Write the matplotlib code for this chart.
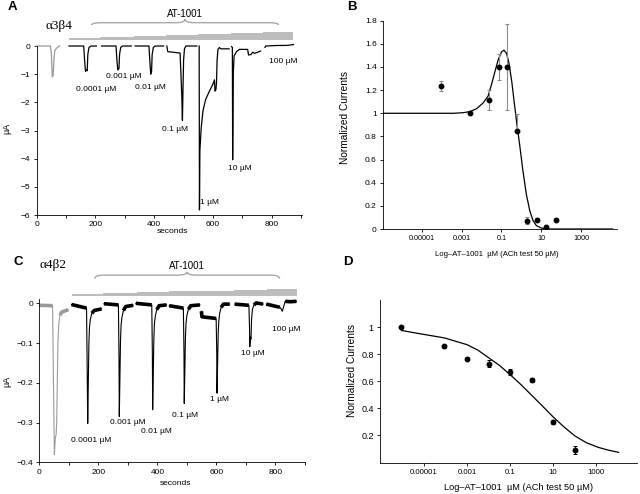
import numpy as np
import matplotlib
matplotlib.use("Agg")
import matplotlib.pyplot as plt
from matplotlib.path import Path
from matplotlib.patches import PathPatch

plt.rcParams['font.family'] = ['Liberation Sans', 'DejaVu Sans']

W, H = 640, 494

# ---------------- panel A : a3b4 recording (seconds, uA) ----------------
a_ctrl_t = [0, 47, 50, 53, 56, 59, 62, 70, 78]
a_ctrl_i = [0, 0, -0.3, -1.1, -1.05, -0.4, -0.15, -0.05, 0]

a_seg_t = [
    [110, 160, 163, 166, 169, 172, 174, 178, 185, 203],
    [221, 270, 273, 276, 280, 282, 286, 292, 322],
    [335, 382, 385, 388, 391, 393, 397, 403, 432],
    [443, 446, 488, 491, 494, 496, 498, 500, 503, 508, 545],
    [553, 554, 555.5, 560, 566, 575, 588, 600, 605, 607, 610, 612, 614, 617, 622, 626, 655],
    [663, 666, 667, 669, 672, 680, 690, 718, 721, 730, 735, 742, 752, 762],
    [777, 779, 820, 850, 874],
]
a_seg_i = [
    [0, 0, -0.5, -0.9, -0.85, -0.88, -0.3, -0.05, 0, 0],
    [0, 0, -0.5, -0.85, -0.8, -0.3, -0.05, 0, 0],
    [0, 0, -0.5, -1.0, -0.9, -0.3, -0.05, 0, 0],
    [0, -0.2, -0.25, -1.0, -1.8, -2.65, -1.5, -0.5, -0.1, 0, 0],
    [0, -5.82, -3.7, -2.9, -2.3, -1.9, -1.6, -1.35, -1.2, -1.6, -1.55, -1.3, -0.5,
     -0.12, -0.05, -0.1, -0.1],
    [-0.02, -0.05, -4.04, -1.0, -0.35, -0.2, -0.12, -0.12, -0.32, -0.3, -0.22, -0.26,
     -0.22, -0.18],
    [-0.05, 0, 0.02, 0.02, 0.05],
]
a_conc = ['0.0001 µM', '0.001 µM', '0.01 µM', '0.1 µM', '1 µM', '10 µM', '100 µM']
a_lab_t = [204, 297, 388, 471, 588, 692, 840]
a_lab_i = [-1.54, -1.1, -1.46, -2.95, -5.56, -4.34, -0.56]

# ---------------- panel C : a4b2 recording ----------------
c_ctrl_t = [0, 45, 48, 51, 54, 57, 59, 61, 63, 66, 70, 76, 98]
c_ctrl_i = [-0.005, -0.006, -0.2, -0.38, -0.34, -0.33, -0.30, -0.2, -0.1, -0.05, -0.03,
            -0.022, -0.016]

c_seg_t = [
    [109, 160, 162, 164, 166, 168, 170, 173, 178, 186, 211],
    [219, 268, 270, 271, 273, 275, 277, 280, 285, 293, 318],
    [327, 381, 383, 384, 386, 388, 390, 393, 398, 406, 431],
    [440, 488, 490, 491, 493, 495, 497, 500, 505, 513, 544],
    [549, 551, 599, 601, 602, 604, 606, 608, 611, 616, 624, 645],
    [662, 710, 712, 713, 715, 717, 719, 722, 727, 735, 758],
    [769, 815, 819, 823, 827, 833, 850, 871],
]
c_seg_i = [
    [-0.003, -0.012, -0.15, -0.302, -0.2, -0.1, -0.06, -0.04, -0.025, -0.018, -0.014],
    [-0.001, -0.004, -0.14, -0.285, -0.19, -0.095, -0.055, -0.035, -0.018, -0.008, -0.005],
    [0.0, -0.004, -0.13, -0.268, -0.18, -0.09, -0.05, -0.032, -0.016, -0.006, -0.004],
    [-0.006, -0.012, -0.12, -0.252, -0.17, -0.085, -0.05, -0.03, -0.015, -0.006, -0.004],
    [-0.02, -0.034, -0.038, -0.12, -0.226, -0.15, -0.075, -0.045, -0.025, -0.01, -0.002,
     -0.002],
    [-0.002, -0.005, -0.06, -0.109, -0.085, -0.09, -0.04, -0.015, -0.004, 0.001, -0.002],
    [-0.002, -0.01, -0.014, -0.02, -0.01, 0.005, 0.004, 0.005],
]
c_pre_n = [2, 2, 2, 2, 3, 2, 2]
c_post_n = [3, 3, 3, 3, 3, 3, 3]
c_conc = a_conc
c_lab_t = [177, 301, 397, 493, 611, 724, 837]
c_lab_i = [-0.346, -0.300, -0.323, -0.281, -0.243, -0.126, -0.067]

# ---------------- panel B : a3b4 dose response ----------------
b_logc = [-4.03, -2.58, -1.65, -1.15, -0.7, -0.2, 0.27, 0.77, 1.23, 1.72]
b_norm = [1.236, 1.005, 1.115, 1.40, 1.40, 0.844, 0.072, 0.081, 0.017, 0.081]
b_err_lo = [0.045, 0.01, 0.09, 0.11, 0.37, 0.01, 0.03, 0.015, 0.01, 0.015]
b_err_hi = [0.045, 0.01, 0.09, 0.11, 0.37, 0.15, 0.03, 0.015, 0.01, 0.015]
b_fit_logc = [-6.92, -3.42, -2.92, -2.58, -2.25, -1.92, -1.67, -1.5, -1.33, -1.17, -1.0,
              -0.88, -0.75, -0.62, -0.48, -0.35, -0.22, -0.08, 0.08, 0.25, 0.42, 0.58,
              0.75, 1.0, 1.42, 4.58]
b_fit = [1.0, 1.0, 1.005, 1.015, 1.04, 1.09, 1.15, 1.25, 1.36, 1.46, 1.53, 1.545, 1.52,
         1.43, 1.27, 1.08, 0.9, 0.72, 0.5, 0.3, 0.16, 0.075, 0.03, 0.008, 0.0, 0.0]

# ---------------- panel D : a4b2 dose response ----------------
d_logc = [-6.05, -4.05, -3.0, -2.0, -1.0, 0.0, 1.0, 2.0]
d_norm = [1.0, 0.858, 0.767, 0.73, 0.669, 0.607, 0.30, 0.092]
d_err = [0.008, 0.01, 0.012, 0.025, 0.02, 0.015, 0.012, 0.03]
d_fit_logc = [-6.05, -5.2, -4.05, -3.0, -2.5, -2.0, -1.5, -1.0, -0.5, 0.0, 0.5, 1.0, 1.5,
              2.0, 2.55, 3.1, 3.55, 4.05]
d_fit = [0.975, 0.951, 0.92, 0.87, 0.83, 0.774, 0.718, 0.649, 0.576, 0.497, 0.418, 0.337,
         0.264, 0.198, 0.146, 0.112, 0.092, 0.075]

log_ticks = [1e-5, 1e-3, 1e-1, 1e1, 1e3]
log_ticklabels = ['0.00001', '0.001', '0.1', '10', '1000']

fig = plt.figure(figsize=(W / 100, H / 100), dpi=100)


def axes_px(l, t, r, b):
    return fig.add_axes([l / W, 1 - b / H, (r - l) / W, (b - t) / H])


def ftext(x, y, s, **kw):
    fig.text(x / W, 1 - y / H, s, **kw)


def style(ax, tsize_x, tsize_y):
    for s in ['top', 'right']:
        ax.spines[s].set_visible(False)
    for s in ['left', 'bottom']:
        ax.spines[s].set_linewidth(0.6)
    ax.tick_params(axis='x', which='both', length=2.5, width=0.6, pad=2, labelsize=tsize_x)
    ax.tick_params(axis='y', which='both', length=2.5, width=0.6, pad=2, labelsize=tsize_y)


def brace(ax, x0, x1, y_end, y_line, y_peak, color):
    xm = (x0 + x1) / 2
    w = (x1 - x0) * 0.05
    verts = [(x0, y_end), (x0, y_line), (x0 + w, y_line),
             (xm - w, y_line), (xm, y_line), (xm, y_peak),
             (xm, y_line), (xm + w, y_line),
             (x1 - w, y_line), (x1, y_line), (x1, y_end)]
    codes = [Path.MOVETO, Path.CURVE3, Path.CURVE3, Path.LINETO, Path.CURVE3, Path.CURVE3,
             Path.CURVE3, Path.CURVE3, Path.LINETO, Path.CURVE3, Path.CURVE3]
    ax.add_patch(PathPatch(Path(verts, codes), fill=False, ec=color, lw=1.0, clip_on=False))


def step_bar(ax, edges, bottom, h0, h1, color):
    n = len(edges) - 1
    tops = [bottom + h0 + (h1 - h0) * k / (n - 1) for k in range(n)]
    ax.fill_between(edges, bottom, tops + [tops[-1]], step='post', color=color, lw=0,
                    clip_on=False)


bar_edges = [110, 215, 330, 440, 550, 660, 770, 874]
gray = '#9a9a9a'

# ---- A ----
axA = axes_px(36.7, 9.4, 301.7, 215)
axA.plot(a_ctrl_t, a_ctrl_i, color=gray, lw=0.9, clip_on=False)
for t, i in zip(a_seg_t, a_seg_i):
    axA.plot(t, i, color='black', lw=0.9, clip_on=False)
for s, t, i in zip(a_conc, a_lab_t, a_lab_i):
    axA.text(t, i, s, ha='center', va='center', fontsize=6)
step_bar(axA, bar_edges, 0.213, 0.08, 0.27, '#bdbdbd')
brace(axA, 187, 823, 0.746, 0.828, 0.947, '#a8a8a8')
axA.text(505, 1.148, 'AT-1001', ha='center', va='center', fontsize=7)
axA.text(77, 0.71, 'α3β4', ha='center', va='center', fontsize=9.5, family='Liberation Serif')
axA.set_xlim(0, 902)
axA.set_ylim(-6, 1.3)
axA.spines['left'].set_bounds(-6, 0)
axA.set_xticks(range(0, 801, 200))
axA.set_xticks(range(100, 901, 200), minor=True)
axA.set_yticks(range(-6, 1))
style(axA, 6, 6)

# ---- C ----
axC = axes_px(39.3, 259.6, 305, 462.3)
axC.plot(c_ctrl_t, c_ctrl_i, color=gray, lw=0.8)
axC.plot(c_ctrl_t[:2], c_ctrl_i[:2], color=gray, lw=2.6, solid_capstyle='butt')
axC.plot(c_ctrl_t[-3:], c_ctrl_i[-3:], color=gray, lw=2.6, solid_capstyle='butt')
for t, i, npre, npost in zip(c_seg_t, c_seg_i, c_pre_n, c_post_n):
    axC.plot(t, i, color='black', lw=0.8)
    axC.plot(t[:npre], i[:npre], color='black', lw=2.6, solid_capstyle='butt')
    axC.plot(t[-npost:], i[-npost:], color='black', lw=2.6, solid_capstyle='butt')
for s, t, i in zip(c_conc, c_lab_t, c_lab_i):
    axC.text(t, i, s, ha='center', va='center', fontsize=6)
step_bar(axC, bar_edges, 0.0196, 0.004, 0.0165, '#bdbdbd')
brace(axC, 188, 814, 0.062, 0.071, 0.079, '#a8a8a8')
axC.text(499, 0.093, 'AT-1001', ha='center', va='center', fontsize=7)
axC.text(47, 0.0956, 'α4β2', ha='center', va='center', fontsize=9.5, family='Liberation Serif')
axC.set_xlim(0, 899)
axC.set_ylim(-0.4, 0.11)
axC.spines['left'].set_bounds(-0.4, 0.01)
axC.set_xticks(range(0, 801, 200))
axC.set_xticks(range(100, 901, 200), minor=True)
axC.set_yticks([0, -0.1, -0.2, -0.3, -0.4])
axC.set_yticklabels(['0', '\u22120.1', '\u22120.2', '\u22120.3', '\u22120.4'])
style(axC, 6, 6)

# ---- B ----
axB = axes_px(383, 20.7, 617, 229)
axB.plot(10 ** np.array(b_fit_logc), b_fit, color='black', lw=0.9)
axB.errorbar(10 ** np.array(b_logc), b_norm, yerr=[b_err_lo, b_err_hi], fmt='o', ms=3.2,
             color='black', ecolor='#8c8c8c', elinewidth=0.8, capsize=1.2, capthick=0.8)
axB.set_xscale('log')
axB.set_xlim(10 ** -6.96, 10 ** 4.81)
axB.set_ylim(0, 1.8)
axB.set_xticks(log_ticks)
axB.set_xticklabels(log_ticklabels)
axB.minorticks_off()
axB.set_yticks([0, 0.2, 0.4, 0.6, 0.8, 1.0, 1.2, 1.4, 1.6, 1.8])
axB.set_yticklabels(['0', '0.2', '0.4', '0.6', '0.8', '1', '1.2', '1.4', '1.6', '1.8'])
style(axB, 5.2, 6)

# ---- D ----
axD = axes_px(380, 300, 636.7, 462.5)
axD.plot(10 ** np.array(d_fit_logc), d_fit, color='black', lw=0.9)
axD.errorbar(10 ** np.array(d_logc), d_norm, yerr=d_err, fmt='o', ms=3.2, color='black',
             ecolor='black', elinewidth=0.7, capsize=1.2, capthick=0.7)
axD.set_xscale('log')
axD.set_xlim(10 ** -7.05, 10 ** 4.89)
axD.set_ylim(0, 1.2)
axD.set_xticks(log_ticks)
axD.set_xticklabels(log_ticklabels)
axD.minorticks_off()
axD.set_yticks([0.2, 0.4, 0.6, 0.8, 1.0])
axD.set_yticklabels(['0.2', '0.4', '0.6', '0.8', '1'])
style(axD, 5.6, 6.5)

# ---- labels ----
ftext(12.7, 7.3, 'A', fontsize=9.5, weight='bold', ha='center', va='center')
ftext(351.7, 6.7, 'B', fontsize=9.5, weight='bold', ha='center', va='center')
ftext(18.3, 261.7, 'C', fontsize=9.5, weight='bold', ha='center', va='center')
ftext(348.3, 261.7, 'D', fontsize=9.5, weight='bold', ha='center', va='center')

ftext(172, 231, 'seconds', fontsize=6, ha='center', va='center')
ftext(7.3, 128, 'µA', fontsize=6.5, rotation=90, ha='center', va='center')
ftext(175, 483, 'seconds', fontsize=6, ha='center', va='center')
ftext(6.7, 381.7, 'µA', fontsize=6.5, rotation=90, ha='center', va='center')

ftext(345, 117, 'Normalized Currents', fontsize=7.3, rotation=90, ha='center', va='center')
ftext(497, 254, 'Log\u2013AT\u20131001  µM (ACh test 50 µM)', fontsize=5.6, ha='center', va='center')
ftext(352.3, 370.7, 'Normalized Currents', fontsize=7.3, rotation=90, ha='center', va='center')
ftext(518.3, 487.3, 'Log\u2013AT\u20131001  µM (ACh test 50 µM)', fontsize=6.7, ha='center', va='center')

fig.savefig('out.png', dpi=100)
